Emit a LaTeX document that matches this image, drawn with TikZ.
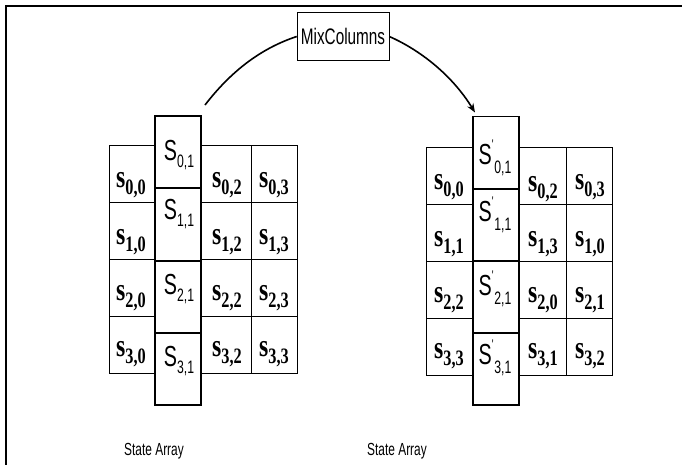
\documentclass[tikz,border=0pt]{standalone}
\usepackage{fontspec}
\setmainfont{Liberation Sans}
\newfontfamily\narrowsans[FakeStretch=0.68]{Liberation Sans}
\newfontfamily\narrowserif[FakeStretch=0.74]{Liberation Serif}
\usetikzlibrary{arrows.meta}

% state byte of an ordinary cell, e.g. s_{0,0}
\newcommand{\cellsym}[1]{{\narrowserif\bfseries\fontsize{32}{32}\selectfont s\raisebox{-0.24em}{\fontsize{22}{22}\selectfont #1}}}
% state byte of the mixed column, e.g. S_{0,1}
\newcommand{\colsym}[1]{{\narrowsans\fontsize{29}{29}\selectfont S\raisebox{-0.22em}{\fontsize{18}{18}\selectfont #1}}}
% transformed byte of the mixed column, e.g. S'_{0,1}
\newcommand{\colsymp}[1]{{\narrowsans\fontsize{29}{29}\selectfont S\rlap{\raisebox{0.5em}{\fontsize{14}{14}\selectfont '}}\hspace{2.5pt}\raisebox{-0.32em}{\fontsize{18}{18}\selectfont #1}}}

\tikzset{
  cellbox/.style={draw, line width=0.8pt, minimum width=#1, minimum height=57pt, inner sep=0pt, outer sep=0pt},
  colbox/.style={draw, fill=white, line width=1.7pt, minimum width=46pt, minimum height=72pt, inner sep=0pt, outer sep=0pt},
  lbl/.style={inner sep=0pt, anchor=center},
  arc/.style={line width=1.6pt},
  caption/.style={inner sep=0pt, font=\narrowsans\fontsize{17.5}{17.5}\selectfont},
}

\begin{document}
\begin{tikzpicture}[x=1pt, y=-1pt]
\useasboundingbox (0,0) rectangle (682,464);

% frame
\draw[line width=2pt] (6,466) -- (6,6) -- (684,6);

% ---------- left state array ----------
\foreach \r/\yc in {0/173.5,1/230.5,2/287.5,3/344.5}{
  \node[cellbox=46pt] (L\r0) at (132,\yc) {};
  \node[cellbox=50pt] (L\r2) at (226,\yc) {};
  \node[cellbox=46pt] (L\r3) at (274,\yc) {};
}
\foreach \r/\yc in {0/152,1/224.5,2/297,3/369}{
  \node[colbox] (LH\r) at (178,\yc) {};
}
% ordinary bytes
\foreach \r/\ty in {0/185,1/242,2/298,3/354}{
  \node[lbl] (Lt\r0) at (131,\ty) {\cellsym{\r,0}};
  \node[lbl] (Lt\r2) at (227,\ty) {\cellsym{\r,2}};
  \node[lbl] (Lt\r3) at (274,\ty) {\cellsym{\r,3}};
}
% column bytes
\foreach \r/\ty in {0/155,1/214,2/289,3/361}{
  \node[lbl] (LtH\r) at (179,\ty) {\colsym{\r,1}};
}

% ---------- right state array ----------
\foreach \r/\yc in {0/175.5,1/232.5,2/289.5,3/346.5}{
  \node[cellbox=47pt] (R\r0) at (449.5,\yc) {};
  \node[cellbox=47pt] (R\r2) at (542.5,\yc) {};
  \node[cellbox=46pt] (R\r3) at (589,\yc) {};
}
\foreach \r/\yc in {0/152.5,1/225,2/297,3/369}{
  \node[colbox] (RH\r) at (496,\yc) {};
}
\node[lbl] (Rt00) at (449,187) {\cellsym{0,0}};
\node[lbl] (Rt02) at (543,189) {\cellsym{0,2}};
\node[lbl] (Rt03) at (590,187) {\cellsym{0,3}};
\node[lbl] (Rt10) at (449,244) {\cellsym{1,1}};
\node[lbl] (Rt12) at (543,244) {\cellsym{1,3}};
\node[lbl] (Rt13) at (590,244) {\cellsym{1,0}};
\node[lbl] (Rt20) at (449,300) {\cellsym{2,2}};
\node[lbl] (Rt22) at (543,300) {\cellsym{2,0}};
\node[lbl] (Rt23) at (590,300) {\cellsym{2,1}};
\node[lbl] (Rt30) at (449,356) {\cellsym{3,3}};
\node[lbl] (Rt32) at (543,356) {\cellsym{3,1}};
\node[lbl] (Rt33) at (590,356) {\cellsym{3,2}};
\foreach \r/\ty in {0/158,1/215,2/289,3/358}{
  \node[lbl] (RtH\r) at (495,\ty) {\colsymp{\r,1}};
}

% ---------- MixColumns transformation ----------
\node[draw, line width=0.6pt, minimum width=92pt, minimum height=48pt, inner sep=0pt,
      font=\narrowsans\fontsize{22.5}{22.5}\selectfont] (mix) at (343,36.5) {MixColumns};

\coordinate (arcL) at ([shift={(4,-11)}]LH0.north east);
\coordinate (arcR) at ([shift={(2,-4)}]RH0.north west);
\draw[arc] (arcL) .. controls (232,70) and (262,48) .. (mix.west);
\draw[arc, -{Stealth[length=9pt, width=7pt]}] (mix.east) .. controls (420,50) and (452,75) .. (arcR);

% captions
\node[caption] (capL) at (154,451) {State Array};
\node[caption] (capR) at (397,451) {State Array};
\end{tikzpicture}
\end{document}
